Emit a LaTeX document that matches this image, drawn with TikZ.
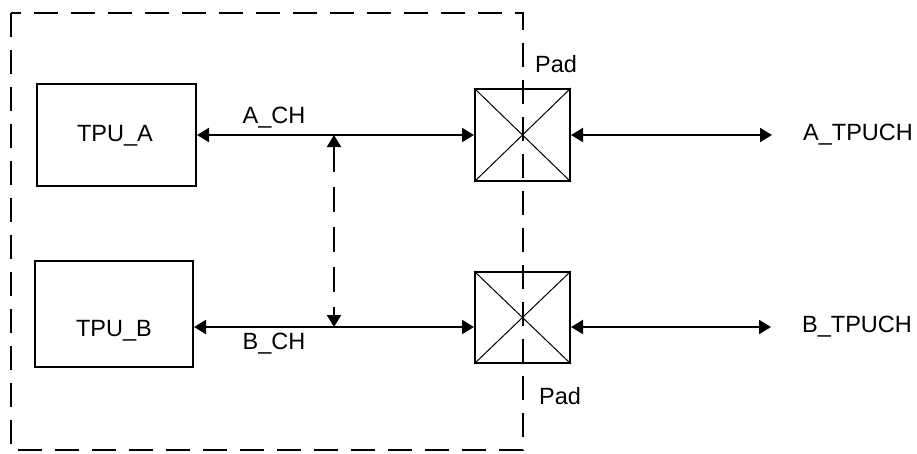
\documentclass[tikz,border=0pt]{standalone}
\usepackage{fontspec}
\setmainfont{Liberation Sans}
\usetikzlibrary{arrows.meta}
\begin{document}
\begin{tikzpicture}[x=1pt,y=-1pt,
  every node/.style={font=\fontsize{23.5}{28}\selectfont},
  blk/.style={draw,line width=2pt,minimum width=#1,inner sep=0pt},
  padbox/.style={draw,line width=2pt,minimum width=95pt,minimum height=92pt,inner sep=0pt},
  sig/.style={line width=2pt,{Triangle[length=12pt,width=14pt]}-{Triangle[length=12pt,width=14pt]}},
  dsh/.style={line width=2pt,dash pattern=on 24pt off 13pt},
  lbl/.style={inner sep=0pt}]
\useasboundingbox (0,0) rectangle (917,453);
% outer dashed boundary
\draw[dsh] (11,13) rectangle (522.5,450);
% TPU boxes
\node[blk=159pt,minimum height=102pt] (tpua) at (116.5,135) {};
\node[lbl] (tpuat) at (115,136) {TPU\_A};
\node[blk=158pt,minimum height=106pt] (tpub) at (114,314) {};
\node[lbl] (tpubt) at (114,331) {TPU\_B};
% pads
\node[padbox] (pada) at (522.5,135) {};
\node[padbox,minimum height=91pt] (padb) at (522.5,317.5) {};
\draw[line width=1pt] (pada.north west) -- (pada.south east) (pada.north east) -- (pada.south west);
\draw[line width=1pt] (padb.north west) -- (padb.south east) (padb.north east) -- (padb.south west);
% labels
\node[lbl] (pa) at (556,64) {Pad};
\node[lbl] (pb) at (560,396) {Pad};
\node[lbl,anchor=west] (atp) at (803,135) {A\_TPUCH};
\node[lbl,anchor=west] (btp) at (802,327) {B\_TPUCH};
\node[lbl] (ach) at (274,118) {A\_CH};
\node[lbl] (bch) at (274,344) {B\_CH};
% coordinates
\coordinate (chB) at (0,327);
\coordinate (endA) at (772,135);
\coordinate (endB) at (771,327);
\coordinate (jA) at (334,135);
\coordinate (jB) at (334,327);
% connectors
\draw[sig] (tpua.east) -- (pada.west);
\draw[sig] (tpub.east |- chB) -- (padb.west |- chB);
\draw[sig] (pada.east) -- (endA);
\draw[sig] (padb.east |- chB) -- (endB);
\draw[sig,dash pattern=on 25pt off 15pt] (jA) -- (jB);
\end{tikzpicture}
\end{document}
